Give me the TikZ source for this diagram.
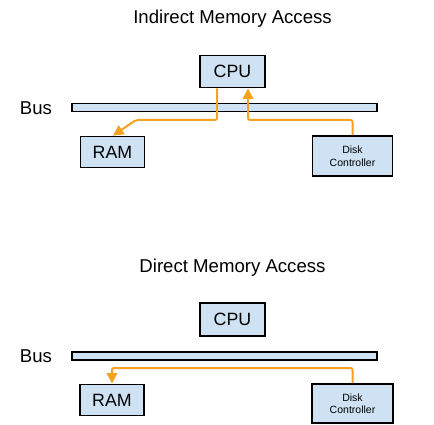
\documentclass[tikz,border=0pt]{standalone}
\usepackage{fontspec}
\setmainfont{Liberation Sans}
\usetikzlibrary{arrows.meta}
\definecolor{boxfill}{RGB}{207,226,243}
\definecolor{flowc}{RGB}{246,162,30}
\tikzset{
  box/.style={draw=black, line width=1.8pt, fill=boxfill, inner sep=0pt, font=\fontsize{17.8}{20}\selectfont},
  diskbox/.style={box, font=\fontsize{10.5}{12.5}\selectfont, align=center},
  busbar/.style={draw=black, line width=1.8pt, fill=boxfill, inner sep=0pt, minimum width=305pt, minimum height=8pt},
  title/.style={font=\fontsize{18.6}{22}\selectfont},
  buslabel/.style={font=\fontsize{18.6}{22}\selectfont},
  flow/.style={draw=flowc, line width=2pt, rounded corners=2pt, -{Triangle[width=10.5pt,length=10.5pt]}}
}
\begin{document}
\begin{tikzpicture}[x=1pt,y=-1pt]
\useasboundingbox (0,0) rectangle (434,425);
% top panel
\node[title] (t1) at (232.5,19) {Indirect Memory Access};
\node[box, minimum width=65pt, minimum height=32pt] (cpu1) at (232.5,71.5) {CPU};
\node[buslabel] (bl1) at (36,108) {Bus};
\node[busbar] (bus1) at (224.5,107.5) {};
\node[box, minimum width=64pt, minimum height=31pt] (ram1) at (112.5,152) {RAM};
\node[diskbox, minimum width=80pt, minimum height=40pt] (disk1) at (352.5,156) {Disk\\Controller};
\coordinate (a1) at (136,120);
\coordinate (a2) at (248,120);
\draw[flow] ([xshift=-15.5pt]cpu1.south) |- (a1) -- ([xshift=0.5pt]ram1.north);
\draw[flow] (disk1.north) |- (a2) -- ([xshift=15.5pt]cpu1.south);
% bottom panel
\node[title] (t2) at (232.5,268) {Direct Memory Access};
\node[box, minimum width=65pt, minimum height=33pt] (cpu2) at (232.5,319.5) {CPU};
\node[buslabel] (bl2) at (36,356) {Bus};
\node[busbar] (bus2) at (224.5,356) {};
\node[box, minimum width=64pt, minimum height=31pt] (ram2) at (112,400) {RAM};
\node[diskbox, minimum width=81pt, minimum height=39pt] (disk2) at (352.5,403.5) {Disk\\Controller};
\coordinate (b1) at (112,368);
\draw[flow] (disk2.north) |- (b1) -- (ram2.north);
\end{tikzpicture}
\end{document}
